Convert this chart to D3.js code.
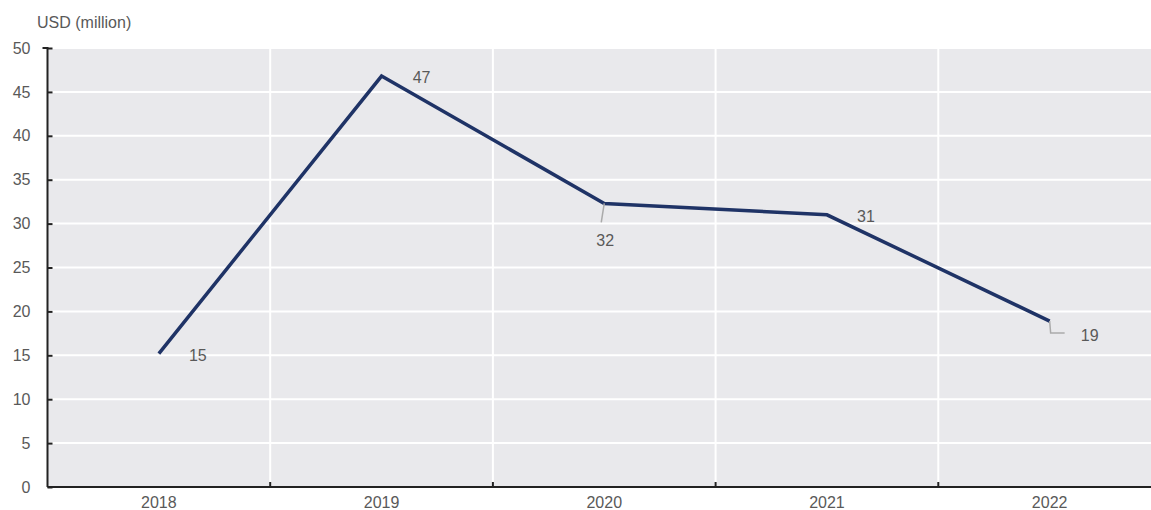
<!DOCTYPE html>
<html><head><meta charset="utf-8">
<script src="https://cdn.jsdelivr.net/npm/d3@7"></script>
<style>body{margin:0;background:#fff}svg{display:block}</style>
</head><body>
<svg id="c" width="1151" height="510"></svg>
<script>
const years = ["2018","2019","2020","2021","2022"];
const values = [15.2, 46.8, 32.3, 31.0, 18.9];
const labels = ["15","47","32","31","19"];
const yTicks = [0,5,10,15,20,25,30,35,40,45,50];

(function(){
const svg = d3.select("#c");
const font = "'Liberation Sans Narrow','Arial Narrow','Liberation Sans',Arial,sans-serif";
const pLeft = 47.5, pTop = 48, pBottom = 487, pRight = 1151;
const x = d3.scaleBand().domain(years).range([pLeft, pLeft + 5*222.7]);
const y = d3.scaleLinear().domain([0,50]).range([pBottom, pTop]);

svg.append("defs").append("clipPath").attr("id","clip")
  .append("rect").attr("x",pLeft).attr("y",0).attr("width",pRight-pLeft).attr("height",510);

svg.append("rect").attr("x",pLeft).attr("y",pTop).attr("width",pRight-pLeft).attr("height",pBottom-pTop).attr("fill","#e9e9ec");

const g = svg.append("g").attr("clip-path","url(#clip)");
g.selectAll(".hg").data(yTicks.filter(d=>d>0)).join("line")
  .attr("x1",pLeft).attr("x2",pRight).attr("y1",d=>y(d)).attr("y2",d=>y(d))
  .attr("stroke","#fff").attr("stroke-width",2);
const bounds = years.slice(1).map(d=>x(d));
g.selectAll(".vg").data(bounds).join("line")
  .attr("x1",d=>d).attr("x2",d=>d).attr("y1",pTop).attr("y2",pBottom)
  .attr("stroke","#fff").attr("stroke-width",2);

const yAxis = d3.axisLeft(y).tickValues(yTicks).tickSize(-5).tickPadding(17);
const ya = svg.append("g").attr("transform",`translate(${pLeft},0)`).call(yAxis);
ya.select(".domain").attr("stroke","#222").attr("stroke-width",2).attr("d",`M-5,${pTop}H0V${pBottom}`);
ya.selectAll(".tick line").attr("stroke","#222").attr("stroke-width",2);
ya.selectAll("text").attr("font-family",font).attr("font-size",16).attr("fill","#595959");

const xa = svg.append("g").attr("transform",`translate(0,${pBottom})`);
xa.append("line").attr("x1",pLeft).attr("x2",pRight).attr("y1",0).attr("y2",0).attr("stroke","#222").attr("stroke-width",2);
xa.selectAll(".xt").data(bounds).join("line").attr("x1",d=>d).attr("x2",d=>d).attr("y1",0).attr("y2",-5).attr("stroke","#222").attr("stroke-width",2);
xa.selectAll(".xl").data(years).join("text")
  .attr("x",d=>x(d)+x.bandwidth()/2).attr("y",21).attr("text-anchor","middle")
  .attr("font-family",font).attr("font-size",16).attr("fill","#595959").text(d=>d);

svg.append("text").attr("x",37).attr("y",28).attr("font-family",font).attr("font-size",16).attr("fill","#595959").text("USD (million)");

const cx = d => x(d)+x.bandwidth()/2;
const pts = years.map((d,i)=>[cx(d), y(values[i])]);
svg.append("path").attr("d",d3.line()(pts)).attr("fill","none").attr("stroke","#1f3366").attr("stroke-width",3.5).attr("stroke-linejoin","miter");

svg.append("path").attr("d",d3.line()([[pts[2][0],pts[2][1]],[pts[2][0]-3,pts[2][1]+19]])).attr("fill","none").attr("stroke","#aaa").attr("stroke-width",1.5);
svg.append("path").attr("d",d3.line()([[pts[4][0],pts[4][1]],[pts[4][0]+1,pts[4][1]+12],[pts[4][0]+15,pts[4][1]+12]])).attr("fill","none").attr("stroke","#aaa").attr("stroke-width",1.5);

const lblOff = [[39,7],[40,7],[1,43],[39,7],[40,20]];
svg.selectAll(".vl").data(labels).join("text")
  .attr("x",(d,i)=>pts[i][0]+lblOff[i][0]).attr("y",(d,i)=>pts[i][1]+lblOff[i][1])
  .attr("text-anchor","middle").attr("font-family",font).attr("font-size",16).attr("fill","#595959").text(d=>d);
})();
</script>
</body></html>
